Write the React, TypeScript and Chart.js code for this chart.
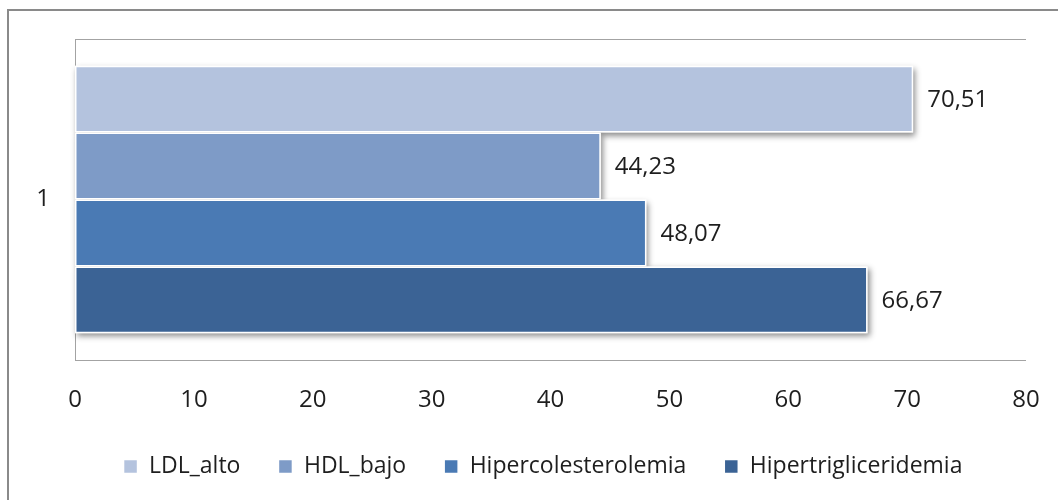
import React, { useEffect, useRef } from 'react';
import { Chart, registerables } from 'chart.js';

Chart.register(...registerables);

const categories = ['1'];
const seriesNames = ['LDL_alto', 'HDL_bajo', 'Hipercolesterolemia', 'Hipertrigliceridemia'];
const ldlAlto = [70.51];
const hdlBajo = [44.23];
const hipercolesterolemia = [48.07];
const hipertrigliceridemia = [66.67];
const seriesColors = ['#B4C3DE', '#7E9BC7', '#4A7AB4', '#3B6395'];
const xMin = 0;
const xMax = 80;
const xStep = 10;

const FONT = "'Open Sans', sans-serif";
const TICK_SIZE = 24;
const LEGEND_SIZE = 23;
const TEXT_COLOR = '#1e1e1e';
const FRAME_COLOR = '#a3a3a3';

const shadowPlugin = {
  id: 'barShadow',
  beforeDatasetsDraw(chart: any) {
    const ctx = chart.ctx;
    chart.data.datasets.forEach((_: any, di: number) => {
      const meta = chart.getDatasetMeta(di);
      meta.data.forEach((el: any) => {
        const left = Math.min(el.base, el.x);
        const w = Math.abs(el.x - el.base);
        ctx.save();
        ctx.shadowColor = 'rgba(0,0,0,0.45)';
        ctx.shadowBlur = 6;
        ctx.shadowOffsetX = 2;
        ctx.shadowOffsetY = 3;
        ctx.fillStyle = '#ffffff';
        ctx.fillRect(left, el.y - el.height / 2, w, el.height);
        ctx.restore();
      });
    });
  },
};

const valueLabelPlugin = {
  id: 'valueLabels',
  afterDatasetsDraw(chart: any) {
    const ctx = chart.ctx;
    ctx.save();
    ctx.font = `${TICK_SIZE}px ${FONT}`;
    ctx.fillStyle = TEXT_COLOR;
    ctx.textAlign = 'left';
    ctx.textBaseline = 'middle';
    chart.data.datasets.forEach((ds: any, di: number) => {
      const meta = chart.getDatasetMeta(di);
      meta.data.forEach((el: any, i: number) => {
        const v = ds.data[i] as number;
        const txt = v.toFixed(2).replace('.', ',');
        ctx.fillText(txt, el.x + 14, el.y + 1);
      });
    });
    ctx.restore();
  },
};

export default function App() {
  const canvasRef = useRef<HTMLCanvasElement | null>(null);

  useEffect(() => {
    const canvas = canvasRef.current;
    if (!canvas) return;
    const seriesValues = [ldlAlto, hdlBajo, hipercolesterolemia, hipertrigliceridemia];
    const chart = new Chart(canvas, {
      type: 'bar',
      data: {
        labels: categories,
        datasets: seriesNames.map((name, i) => ({
          label: name,
          data: seriesValues[i],
          backgroundColor: seriesColors[i],
          borderColor: '#ffffff',
          borderWidth: 1.5,
          borderSkipped: false,
          categoryPercentage: 0.834,
          barPercentage: 1,
        })),
      },
      options: {
        indexAxis: 'y',
        responsive: false,
        animation: false,
        devicePixelRatio: 1,
        layout: {
          padding: { top: 39, right: 0, left: 28, bottom: 12 },
        },
        font: { family: FONT, size: TICK_SIZE },
        scales: {
          x: {
            type: 'linear',
            min: xMin,
            max: xMax,
            ticks: {
              stepSize: xStep,
              padding: 18,
              color: TEXT_COLOR,
              font: { family: FONT, size: TICK_SIZE },
            },
            grid: { display: false },
            border: { display: false },
            afterFit(scale: any) {
              scale.height = 57;
              scale.paddingLeft = 0;
              scale.paddingRight = 32;
            },
          },
          y: {
            type: 'category',
            ticks: {
              padding: 25,
              color: TEXT_COLOR,
              font: { family: FONT, size: TICK_SIZE },
            },
            grid: {
              offset: true,
              color: FRAME_COLOR,
              lineWidth: 1,
              drawTicks: false,
            },
            border: { display: true, color: FRAME_COLOR, width: 1 },
            afterFit(scale: any) {
              scale.width = 47;
              scale.paddingTop = 0;
              scale.paddingBottom = 0;
            },
          },
        },
        plugins: {
          legend: {
            position: 'bottom',
            labels: {
              boxWidth: 14,
              boxHeight: 14,
              padding: 38,
              color: TEXT_COLOR,
              font: { family: FONT, size: LEGEND_SIZE },
            },
          },
          tooltip: { enabled: false },
        },
      },
      plugins: [shadowPlugin, valueLabelPlugin],
    } as any);
    return () => chart.destroy();
  }, []);

  return (
    <div
      style={{
        position: 'fixed',
        left: 0,
        top: 0,
        width: 1058,
        height: 500,
        overflow: 'hidden',
        background: '#ffffff',
      }}
    >
      <div
        style={{
          position: 'absolute',
          left: 7,
          top: 9,
          width: 1200,
          height: 700,
          borderTop: '2px solid #8a8a8a',
          borderLeft: '2px solid #8a8a8a',
        }}
      />
      <canvas
        ref={canvasRef}
        width={1058}
        height={500}
        style={{ position: 'absolute', left: 0, top: 0, width: 1058, height: 500 }}
      />
    </div>
  );
}
